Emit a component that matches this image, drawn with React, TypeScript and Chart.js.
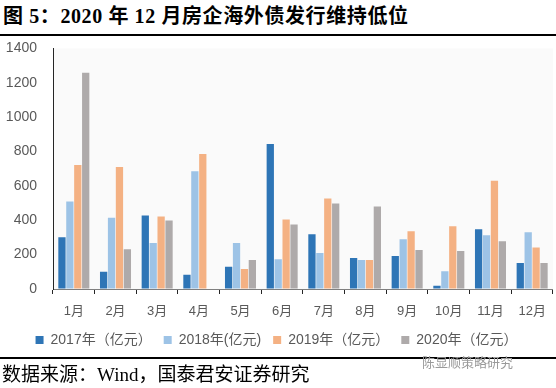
import React, { useEffect, useRef } from "react";
import { Chart, registerables } from "chart.js";

Chart.register(...registerables);

const months = ["1月", "2月", "3月", "4月", "5月", "6月", "7月", "8月", "9月", "10月", "11月", "12月"];
const s2017 = [301, 100, 428, 83, 129, 843, 319, 180, 192, 19, 348, 152];
const s2018 = [509, 415, 267, 685, 267, 173, 209, 169, 290, 104, 313, 330];
const s2019 = [722, 710, 422, 785, 117, 405, 526, 169, 336, 365, 630, 242];
const s2020 = [1258, 232, 399, 0, 169, 376, 497, 480, 227, 221, 278, 152];
const seriesNames = ["2017年（亿元）", "2018年(亿元)", "2019年（亿元）", "2020年（亿元）"];
const seriesColors = ["#2E75B6", "#9DC3E6", "#F4B183", "#AEAAAA"];

const FONT = '"Liberation Sans", "Noto Sans CJK SC", sans-serif';
const SERIF = '"Liberation Serif", "Noto Sans CJK SC", serif';

const bgPlugin = {
  id: "plotBg",
  beforeDraw(chart: any) {
    const { ctx, chartArea } = chart;
    if (!chartArea) return;
    ctx.save();
    ctx.fillStyle = "#FAFAFA";
    ctx.fillRect(chartArea.left, chartArea.top, chartArea.right - chartArea.left, chartArea.bottom - chartArea.top);
    ctx.restore();
  },
};

export default function App() {
  const ref = useRef<HTMLCanvasElement>(null);

  useEffect(() => {
    if (!ref.current) return;
    const data = [s2017, s2018, s2019, s2020];
    const chart = new Chart(ref.current, {
      type: "bar",
      data: {
        labels: months,
        datasets: data.map((d, i) => ({
          label: seriesNames[i],
          data: d,
          backgroundColor: seriesColors[i],
          borderWidth: 0,
          barPercentage: 0.92,
          categoryPercentage: 0.76,
        })),
      },
      options: {
        responsive: false,
        animation: false,
        maintainAspectRatio: false,
        layout: { padding: { top: 0, right: 3, left: 0, bottom: 0 } },
        plugins: {
          legend: {
            position: "bottom",
            labels: {
              boxWidth: 8,
              boxHeight: 8,
              padding: 12,
              color: "#595959",
              font: { family: FONT, size: 14 },
            },
          },
          tooltip: { enabled: false },
        },
        scales: {
          x: {
            grid: {
              display: true,
              offset: true,
              drawOnChartArea: false,
              drawTicks: true,
              tickLength: 5,
              color: "#262626",
            },
            border: { display: true, color: "#7F7F7F", width: 1 },
            ticks: {
              color: "#595959",
              font: { family: FONT, size: 13 },
              padding: 10,
              maxRotation: 0,
              autoSkip: false,
            },
            afterFit(scale: any) {
              scale.height = 32;
            },
          },
          y: {
            min: 0,
            max: 1400,
            grid: { display: true, drawOnChartArea: false, drawTicks: false },
            border: { display: true, color: "#262626", width: 1 },
            ticks: {
              stepSize: 200,
              color: "#595959",
              font: { family: FONT, size: 14 },
              padding: 16,
              callback: (v: any) => String(v),
            },
            afterFit(scale: any) {
              scale.width = 53;
            },
          },
        },
      },
      plugins: [bgPlugin],
    });
    return () => chart.destroy();
  }, []);

  return (
    <div style={{ position: "fixed", left: 0, top: 0, width: 556, height: 388, background: "#fff", overflow: "hidden" }}>
      <div
        style={{
          position: "absolute",
          left: 3,
          top: 4,
          fontFamily: SERIF,
          fontWeight: "bold",
          fontSize: 20,
          letterSpacing: "0.6px",
          color: "#000",
          whiteSpace: "nowrap",
          lineHeight: "24px",
        }}
      >
        图 5：2020 年 12 月房企海外债发行维持低位
      </div>
      <canvas ref={ref} width={556} height={333} style={{ position: "absolute", left: 0, top: 24 }} />
      <div style={{ position: "absolute", left: 0, top: 34, width: 556, height: 2, background: "#000" }} />
      <div style={{ position: "absolute", left: 0, top: 357, width: 556, height: 1.5, background: "#000" }} />
      <div
        style={{
          position: "absolute",
          left: 2,
          top: 363,
          fontFamily: SERIF,
          fontSize: 19,
          color: "#000",
          whiteSpace: "nowrap",
          lineHeight: "24px",
        }}
      >
        数据来源：Wind，国泰君安证券研究
      </div>
      <div
        style={{
          position: "absolute",
          left: 422,
          top: 354,
          fontFamily: FONT,
          fontSize: 13,
          color: "#9a9a9a",
          whiteSpace: "nowrap",
          lineHeight: "18px",
        }}
      >
        陈显顺策略研究
      </div>
    </div>
  );
}
